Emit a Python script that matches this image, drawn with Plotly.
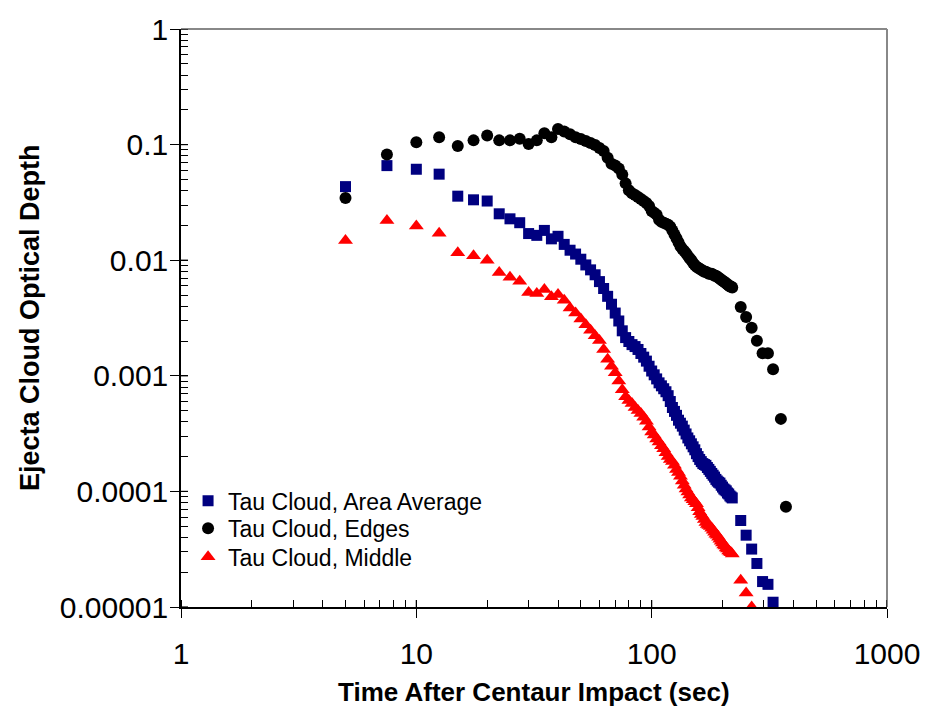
import plotly.graph_objects as go

# ---- data ----
time_s = [5, 7.5, 10, 12.5, 15, 17.5, 20, 22.5, 25, 27.5, 30, 32.5, 35, 37.5, 40, 42.5,
          45, 47.5, 50, 52.5, 55, 57.5, 60, 62.5, 65, 67.5, 70, 72.5, 75, 77.5, 80, 82.5,
          85, 87.5, 90, 92.5, 95, 97.5, 100, 102.5, 105, 107.5, 110, 112.5, 115, 117.5,
          120, 122.5, 125, 127.5, 130, 132.5, 135, 137.5, 140, 142.5, 145, 147.5, 150,
          152.5, 155, 157.5, 160, 162.5, 165, 167.5, 170, 172.5, 175, 177.5, 180, 182.5,
          185, 187.5, 190, 192.5, 195, 197.5, 200, 202.5, 205, 207.5, 210, 212.5, 215,
          217.5, 220]
tail_time = [239, 252, 266, 280, 296, 312, 328, 354, 372]

area_avg = [0.0433, 0.0658, 0.0612, 0.0555, 0.0358, 0.0333, 0.0325, 0.0252, 0.0228, 0.0211,
            0.0170, 0.0164, 0.0181, 0.0153, 0.0161, 0.0137, 0.0122, 0.0113, 0.0102, 0.00910,
            0.00825, 0.00748, 0.00653, 0.00569, 0.00487, 0.00416, 0.00349, 0.00298, 0.00245,
            0.00214, 0.00198, 0.00186, 0.00179, 0.00169, 0.00156, 0.00145, 0.00134, 0.00121,
            0.00110, 0.00102, 0.000940, 0.000869, 0.000819, 0.000773, 0.000728, 0.000673,
            0.000599, 0.000532, 0.000492, 0.000455, 0.000413, 0.000389, 0.000367, 0.000339,
            0.000314, 0.000290, 0.000274, 0.000258, 0.000243, 0.000229, 0.000212, 0.000200,
            0.000189, 0.000181, 0.000174, 0.000171, 0.000168, 0.000161, 0.000155, 0.000149,
            0.000143, 0.000138, 0.000133, 0.000127, 0.000123, 0.000120, 0.000118, 0.000113,
            0.000109, 0.000105, 0.000103, 0.000101, 0.0000969, 0.0000950, 0.0000914,
            0.0000895, 0.0000878]
area_avg_tail = [0.0000560, 0.0000418, 0.0000317, 0.0000238, 0.0000166, 0.0000157, 0.0000110]

edges = [0.0345, 0.0820, 0.1046, 0.1160, 0.0973, 0.1088, 0.1200, 0.1088, 0.1088, 0.1122,
         0.1012, 0.1088, 0.1255, 0.1160, 0.1365, 0.1297, 0.1231, 0.1160, 0.1116, 0.1073,
         0.1032, 0.0992, 0.0936, 0.0882, 0.0769, 0.0684, 0.0658, 0.0620, 0.0551, 0.0462,
         0.0403, 0.0380, 0.0366, 0.0352, 0.0338, 0.0325, 0.0313, 0.0295, 0.0267, 0.0257,
         0.0247, 0.0224, 0.0215, 0.0211, 0.0207, 0.0203, 0.0195, 0.0181, 0.0167, 0.0155,
         0.0143, 0.0132, 0.0125, 0.0120, 0.0115, 0.0109, 0.0104, 0.0100, 0.00947, 0.00910,
         0.00876, 0.00859, 0.00842, 0.00826, 0.00810, 0.00794, 0.00794, 0.00778, 0.00763,
         0.00763, 0.00763, 0.00748, 0.00734, 0.00734, 0.00720, 0.00706, 0.00692, 0.00679,
         0.00665, 0.00653, 0.00640, 0.00628, 0.00615, 0.00603, 0.00592, 0.00592, 0.00580]
edges_tail = [0.00394, 0.00323, 0.00260, 0.00201, 0.00157, 0.00157, 0.00114, 0.000424, 0.0000736]

middle = [0.0148, 0.0220, 0.0198, 0.0171, 0.0116, 0.0109, 0.0100, 0.00783, 0.00713, 0.00657,
          0.00526, 0.00516, 0.00558, 0.00484, 0.00506, 0.00450, 0.00385, 0.00349, 0.00310,
          0.00276, 0.00248, 0.00222, 0.00202, 0.00169, 0.00139, 0.00121, 0.00106, 0.000903,
          0.000757, 0.000660, 0.000611, 0.000576, 0.000532, 0.000502, 0.000473, 0.000438,
          0.000405, 0.000360, 0.000326, 0.000308, 0.000284, 0.000268, 0.000248, 0.000234,
          0.000216, 0.000200, 0.000189, 0.000181, 0.000168, 0.000155, 0.000146, 0.000135,
          0.000123, 0.000113, 0.000105, 0.0000988, 0.0000932, 0.0000878, 0.0000845,
          0.0000812, 0.0000781, 0.0000722, 0.0000668, 0.0000630, 0.0000606, 0.0000571,
          0.0000539, 0.0000518, 0.0000508, 0.0000498, 0.0000479, 0.0000461, 0.0000443,
          0.0000426, 0.0000418, 0.0000402, 0.0000386, 0.0000371, 0.0000357, 0.0000343,
          0.0000337, 0.0000324, 0.0000317, 0.0000305, 0.0000299, 0.0000294, 0.0000288]
middle_tail = [0.0000170, 0.0000132, 0.0000100]

x_tickvals = [1, 10, 100, 1000]
x_ticktext = ["1", "10", "100", "1000"]
y_tickvals = [1, 0.1, 0.01, 0.001, 0.0001, 0.00001]
y_ticktext = ["1", "0.1", "0.01", "0.001", "0.0001", "0.00001"]

FONT = "Liberation Sans, Arial, sans-serif"
LEG_FONT = dict(family=FONT, size=23, color="black")

fig = go.Figure()
fig.add_trace(go.Scatter(
    x=time_s + tail_time[:len(area_avg_tail)], y=area_avg + area_avg_tail,
    mode="markers", name="Tau Cloud, Area Average", legend="legend",
    marker=dict(symbol="square", size=11, color="#000080", line=dict(width=0))))
fig.add_trace(go.Scatter(
    x=time_s + tail_time[:len(edges_tail)], y=edges + edges_tail,
    mode="markers", name="Tau Cloud, Edges", legend="legend2",
    marker=dict(symbol="circle", size=12, color="#000000", line=dict(width=0))))
fig.add_trace(go.Scatter(
    x=time_s + tail_time[:len(middle_tail)], y=middle + middle_tail,
    mode="markers", name="Tau Cloud, Middle", legend="legend3",
    marker=dict(symbol="triangle-up", size=13, color="#FF0000", line=dict(width=0))))

axis_common = dict(
    type="log", showgrid=False, zeroline=False, showline=True, linecolor="black",
    linewidth=1.5, ticks="outside", ticklen=9, tickwidth=1.2, tickcolor="black",
    tickfont=dict(family=FONT, size=30, color="black"),
    minor=dict(ticks="inside", ticklen=7, tickwidth=1.2, tickcolor="black",
               dtick="D1", showgrid=False),
)

fig.update_xaxes(range=[0, 3], tickvals=x_tickvals, ticktext=x_ticktext,
                 ticklabelstandoff=10, **axis_common)
fig.update_yaxes(range=[-5, 0], tickvals=y_tickvals, ticktext=y_ticktext,
                 ticklabelstandoff=-4, **axis_common)

shapes = []
# gray plot-area frame on top and right
shapes.append(dict(type="line", xref="paper", yref="paper", x0=0, x1=1, y0=1, y1=1,
                   line=dict(color="#888888", width=2)))
shapes.append(dict(type="line", xref="paper", yref="paper", x0=1, x1=1, y0=0, y1=1,
                   line=dict(color="#888888", width=2)))
# inside half of the crossing major ticks
for v in x_tickvals:
    shapes.append(dict(type="line", xref="x", yref="y domain", x0=v, x1=v,
                       ysizemode="pixel", yanchor=0, y0=0, y1=7,
                       line=dict(color="black", width=1.2)))
for v in y_tickvals:
    shapes.append(dict(type="line", yref="y", xref="x domain", y0=v, y1=v,
                       xsizemode="pixel", xanchor=0, x0=0, x1=7,
                       line=dict(color="black", width=1.2)))

leg_common = dict(x=0.01, xanchor="left", yanchor="middle", bgcolor="rgba(0,0,0,0)",
                  borderwidth=0, font=LEG_FONT)

fig.update_layout(
    width=936, height=710,
    margin=dict(l=181, r=49, t=19, b=103, pad=0),
    paper_bgcolor="white", plot_bgcolor="white",
    font=dict(family=FONT, color="black"),
    shapes=shapes,
    showlegend=True,
    legend=dict(y=0.1837, **leg_common),
    legend2=dict(y=0.136, **leg_common),
    legend3=dict(y=0.0867, **leg_common),
    annotations=[
        dict(text="<b>Time After Centaur Impact (sec)</b>", xref="paper", yref="paper",
             x=0.5, y=0, yshift=-85, xanchor="center", yanchor="middle", showarrow=False,
             font=dict(family=FONT, size=26, color="black")),
        dict(text="<b>Ejecta Cloud Optical Depth</b>", xref="paper", yref="paper",
             x=0, xshift=-151, y=0.5, xanchor="center", yanchor="middle", textangle=-90,
             showarrow=False, font=dict(family=FONT, size=27, color="black")),
    ],
)

fig.write_html("out.html")
